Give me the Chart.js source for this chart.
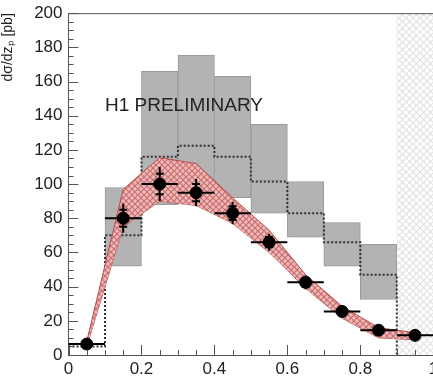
<!DOCTYPE html>
<html><head><meta charset="utf-8">
<script src="https://cdn.jsdelivr.net/npm/chart.js@4/dist/chart.umd.min.js"></script>
<style>html,body{margin:0;padding:0;background:#fff;overflow:hidden;width:433px;height:378px}#w{width:442px;height:381px;margin-top:-3px}</style>
</head><body><div id="w"><canvas id="c" width="442" height="381"></canvas></div>
<script>
// ---- data ----
const binEdges   = [0, 0.1, 0.2, 0.3, 0.4, 0.5, 0.6, 0.7, 0.8, 0.9, 1.0];
const binCenters = [0.05, 0.15, 0.25, 0.35, 0.45, 0.55, 0.65, 0.75, 0.85, 0.95];
const dataVals   = [6.4, 80, 100, 95, 83, 66, 42.5, 25.5, 14.5, 11.5];
const totErr     = [1.5, 8.5, 10, 8, 6.5, 5, 4, 2.5, 2, 3];
const statErr    = [1, 5, 6, 5, 4, 3, 2.5, 1.5, 1.2, 2];
const sysCenters = [0.15, 0.25, 0.35, 0.45, 0.55, 0.65, 0.75, 0.85];
const sysLow     = [52, 88, 93, 92, 83, 69, 52, 32.5];
const sysHigh    = [98, 166, 175.5, 163, 135, 101.5, 77.5, 64.7];
const mcVals     = [5, 70, 116, 122.5, 116, 101.5, 83, 66, 47];
const bandLow    = [5, 75, 90, 87.5, 77, 60, 39, 21.5, 10, 9];
const bandHigh   = [8, 97, 115.5, 112, 92, 73, 47, 28.5, 16, 13];
const excludedBin = [0.95];
const excludedRange = [0, 200];
const yTicks = [0, 20, 40, 60, 80, 100, 120, 140, 160, 180, 200];
const xTicks = [0, 0.2, 0.4, 0.6, 0.8, 1];
const labelText = 'H1 PRELIMINARY';
const labelPos = {x: 0.1, y: 146};
const yTitle = 'dσ/dzₚ [pb]';

// ---- patterns ----
function makePattern(base, line, size){
  const c = document.createElement('canvas'); c.width = size; c.height = size;
  const g = c.getContext('2d');
  g.fillStyle = base; g.fillRect(0,0,size,size);
  g.strokeStyle = line; g.lineWidth = 1.2;
  g.beginPath(); g.moveTo(0,0); g.lineTo(size,size); g.moveTo(size,0); g.lineTo(0,size); g.stroke();
  return document.getElementById('c').getContext('2d').createPattern(c,'repeat');
}
const bandPattern = makePattern('#efbaba', '#c96e6e', 6);
const hatchPattern = makePattern('#ffffff', '#e2e2e2', 7);

const fontFam = '"Liberation Sans", Arial, Helvetica, sans-serif';

const overlay = {
  id: 'overlay',
  beforeDatasetDraw(chart, args){
    if (args.meta.label !== 'data') return;
    const ctx = chart.ctx, xs = chart.scales.x, ys = chart.scales.y;
    ctx.save(); ctx.strokeStyle = '#000'; ctx.lineWidth = 2;
    binCenters.forEach((c,i)=>{
      const px = xs.getPixelForValue(c), py = ys.getPixelForValue(dataVals[i]);
      ctx.beginPath();
      ctx.moveTo(xs.getPixelForValue(binEdges[i]), py); ctx.lineTo(xs.getPixelForValue(binEdges[i+1]), py);
      ctx.moveTo(px, ys.getPixelForValue(dataVals[i]-totErr[i])); ctx.lineTo(px, ys.getPixelForValue(dataVals[i]+totErr[i]));
      [dataVals[i]-statErr[i], dataVals[i]+statErr[i]].forEach(v=>{
        const q = ys.getPixelForValue(v); ctx.moveTo(px-4, q); ctx.lineTo(px+4, q);
      });
      ctx.stroke();
    });
    ctx.restore();
  },
  afterDraw(chart){
    const ctx = chart.ctx, xs = chart.scales.x, ys = chart.scales.y, a = chart.chartArea;
    ctx.save();
    ctx.strokeStyle = '#555'; ctx.lineWidth = 1;
    ctx.beginPath();
    for (let v = 0; v <= 200; v += 5){
      const p = Math.round(ys.getPixelForValue(v)) + 0.5;
      const len = v % 20 === 0 ? 10 : 5;
      ctx.moveTo(a.left, p); ctx.lineTo(a.left + len, p);
    }
    for (let k = 0; k <= 20; k++){
      const v = k*0.05; const p = Math.round(xs.getPixelForValue(v)) + 0.5;
      const len = k % 4 === 0 ? 10 : 5;
      ctx.moveTo(p, a.bottom); ctx.lineTo(p, a.bottom - len);
    }
    ctx.moveTo(a.left, a.top+0.5); ctx.lineTo(a.right, a.top+0.5);
    ctx.stroke();
    ctx.fillStyle = '#222'; ctx.font = '19px ' + fontFam; ctx.textBaseline = 'middle'; ctx.textAlign = 'left';
    ctx.fillText(labelText, xs.getPixelForValue(labelPos.x), ys.getPixelForValue(labelPos.y));
    ctx.restore();
  }
};

new Chart(document.getElementById('c'), {
  type: 'bar',
  data: {
    datasets: [
      { label: 'data', type: 'line', data: binCenters.map((x,i)=>({x, y: dataVals[i]})),
        showLine: false, pointRadius: 6, pointBackgroundColor: '#000', pointBorderColor: '#000', order: 0 },
      { label: 'bandHigh', type: 'line', data: binCenters.map((x,i)=>({x, y: bandHigh[i]})),
        borderColor: '#b84c4c', borderWidth: 1, pointRadius: 0, fill: '+1', backgroundColor: bandPattern, tension: 0, order: 1 },
      { label: 'bandLow', type: 'line', data: binCenters.map((x,i)=>({x, y: bandLow[i]})),
        borderColor: '#b84c4c', borderWidth: 1, pointRadius: 0, fill: false, tension: 0, order: 1 },
      { label: 'mc', type: 'line', stepped: true,
        data: binEdges.slice(0, mcVals.length + 1).map((x,i)=>({x, y: i < mcVals.length ? mcVals[i] : 0})),
        borderColor: '#333', borderWidth: 2, borderDash: [2,2], pointRadius: 0, fill: false, order: 2 },
      { label: 'sys', data: sysCenters.map((x,i)=>({x, y: [sysLow[i], sysHigh[i]]})),
        backgroundColor: '#b3b3b3', borderColor: '#999999', borderWidth: 1, borderSkipped: false,
        barPercentage: 1, categoryPercentage: 1, grouped: false, order: 3 },
      { label: 'excl', data: excludedBin.map(x=>({x, y: excludedRange})),
        backgroundColor: hatchPattern, borderWidth: 0,
        barPercentage: 1, categoryPercentage: 1, grouped: false, order: 4 }
    ]
  },
  options: {
    responsive: false, animation: false, devicePixelRatio: 1,
    layout: { padding: { left: 0, right: 0, top: 0, bottom: 0 } },
    plugins: { legend: { display: false }, tooltip: { enabled: false } },
    scales: {
      x: { type: 'linear', min: 0, max: 1, offset: false,
        afterBuildTicks: s => { s.ticks = xTicks.map(v=>({value: v})); },
        afterFit: s => { s.height = 23; },
        grid: { display: false, drawTicks: false },
        border: { display: true, color: '#555', width: 1 },
        ticks: { padding: 4, color: '#222', font: { family: fontFam, size: 17 }, maxRotation: 0,
          callback: v => String(v) } },
      y: { min: 0, max: 200,
        afterBuildTicks: s => { s.ticks = yTicks.map(v=>({value: v})); },
        afterFit: s => { s.width = 68.5; },
        grid: { display: false, drawTicks: false },
        border: { display: true, color: '#555', width: 1 },
        title: { display: true, text: yTitle, align: 'end', padding: 0, color: '#222', font: { family: fontFam, size: 14 } },
        ticks: { padding: 6, color: '#222', font: { family: fontFam, size: 17 } } }
    }
  },
  plugins: [overlay]
});
</script></body></html>
